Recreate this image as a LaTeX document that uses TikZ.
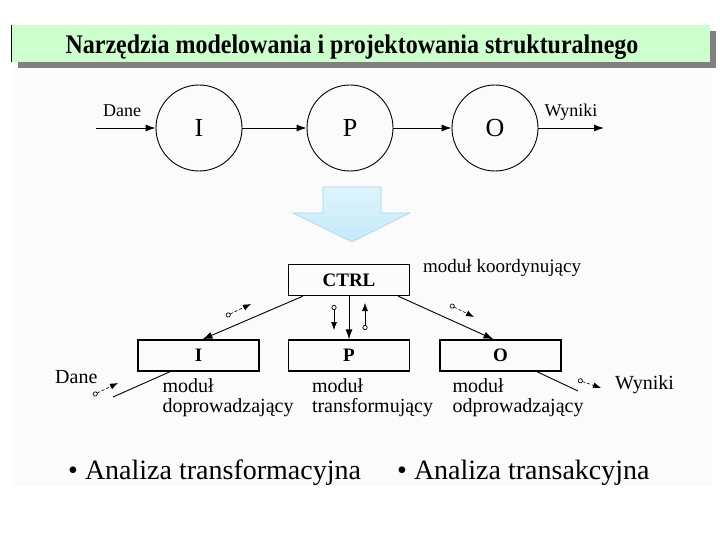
\documentclass[tikz,border=0pt]{standalone}
\usepackage{fontspec}
\setmainfont{Liberation Serif}
\usetikzlibrary{positioning,arrows.meta}
\definecolor{SlideGreen}{HTML}{CCFFCC}
\definecolor{SlideShadow}{HTML}{808080}
\definecolor{SlideBack}{HTML}{FBFBFB}
\definecolor{ArrowBlue}{HTML}{C4EAF9}
\definecolor{ArrowEdge}{HTML}{A3D6EC}

\begin{document}
\begin{tikzpicture}[x=1pt,y=-1pt,
    flow/.style={-{Latex[length=10pt,width=7pt]},line width=0.9pt},
    couple/.style={{Circle[open,length=5pt,width=5pt,line width=0.7pt]}-{Latex[length=8pt,width=6pt]},
      line width=0.6pt},
    bubble/.style={draw,circle,line width=0.9pt,minimum size=86pt,inner sep=0pt,
      font=\fontsize{26}{28}\selectfont},
    modbox/.style={draw,line width=1.4pt,minimum width=121pt,minimum height=31pt,inner sep=0pt,
      font=\fontsize{19}{21}\selectfont\bfseries},
    modnote/.style={align=left,inner sep=0pt,font=\fontsize{20}{20}\selectfont}]
    \useasboundingbox (0,0) rectangle (720,540);
    \fill[SlideBack] (12,62) rectangle (712,486);
    \fill[SlideShadow] (18,31) rectangle (716,68);
    \fill[SlideGreen] (12,25) rectangle (710,62);
    \draw[line width=1pt] (11,25)--(11,62);
    \node[anchor=base,inner sep=0pt,yscale=1.12,transform shape,
      font=\fontsize{24}{26}\selectfont\bfseries]
      (title) at (352,54) {Narzędzia modelowania i projektowania strukturalnego};
    \node[bubble] (ci) at (199,128) {I};
    \node[bubble] (cp) at (350,128) {P};
    \node[bubble] (co) at (495,128) {O};
    \coordinate (topin) at (96,128);
    \coordinate (topout) at (604,128);
    \draw[flow] (topin)--(ci);
    \draw[flow] (ci)--(cp);
    \draw[flow] (cp)--(co);
    \draw[flow] (co)--(topout);
    \node[anchor=base,inner sep=0pt,font=\fontsize{18}{20}\selectfont]
      (topdane) at (122,117) {Dane};
    \node[anchor=base,inner sep=0pt,font=\fontsize{18}{20}\selectfont]
      (topwyniki) at (571,117) {Wyniki};
    \draw[ArrowEdge,line width=0.6pt,top color=ArrowBlue!55,bottom color=ArrowBlue]
      (323,187)--(381,187)--(381,213)--(410,213)--(352,242)--(293,213)--(323,213)--cycle;
    \node[modbox] (ctrl) at (349,280) {CTRL};
    \node[anchor=base west,inner sep=0pt,font=\fontsize{19}{21}\selectfont]
      (koord) at (423,272) {moduł koordynujący};
    \node[modbox] (mi) at (198.5,355.5) {I};
    \node[modbox] (mp) at (349,355.5) {P};
    \node[modbox] (mo) at (500.5,355.5) {O};
    \node[modnote,below right=7pt and 25pt of mi.south west] (noti) {moduł\\doprowadzający};
    \node[modnote,below right=7pt and 24pt of mp.south west] (notp) {moduł\\transformujący};
    \node[modnote,below right=7pt and 13pt of mo.south west] (noto) {moduł\\odprowadzający};
    \draw[flow] (ctrl.south)--(mp.north);
    \draw[flow] ([xshift=15pt]ctrl.south west)--([xshift=4pt]mi.north);
    \draw[flow] ([xshift=-12pt]ctrl.south east)--([xshift=-7pt]mo.north);
    \coordinate (lowin) at (113,397);
    \coordinate (lowout) at (578,391);
    \draw[line width=0.9pt] ([xshift=-28.5pt]mi.south)--(lowin);
    \draw[line width=0.9pt] ([xshift=36.5pt]mo.south)--(lowout);
    \node[anchor=base west,inner sep=0pt,font=\fontsize{20}{22}\selectfont]
      (lowdane) at (55,383) {Dane};
    \node[anchor=base west,inner sep=0pt,font=\fontsize{20}{22}\selectfont]
      (lowwyniki) at (615,389) {Wyniki};
    \coordinate (c1a) at (226,316); \coordinate (c1b) at (251,304);
    \coordinate (c2a) at (450,305); \coordinate (c2b) at (474,317);
    \coordinate (c3a) at (93,395);  \coordinate (c3b) at (118,383);
    \coordinate (c4a) at (578,380); \coordinate (c4b) at (601,388);
    \coordinate (c5a) at (334,305); \coordinate (c5b) at (334,330);
    \coordinate (c6a) at (365,330); \coordinate (c6b) at (365,303);
    \foreach \n in {1,2,3,4}{
      \draw[couple,densely dashed] (c\n a)--(c\n b);
    }
    \foreach \n in {5,6}{
      \draw[couple] (c\n a)--(c\n b);
    }
    \node[anchor=base west,inner sep=0pt,font=\fontsize{28}{30}\selectfont]
      (bul1) at (68,479) {•\ Analiza transformacyjna};
    \node[anchor=base west,inner sep=0pt,font=\fontsize{28}{30}\selectfont]
      (bul2) at (397,479) {•\ Analiza transakcyjna};
\end{tikzpicture}
\end{document}
